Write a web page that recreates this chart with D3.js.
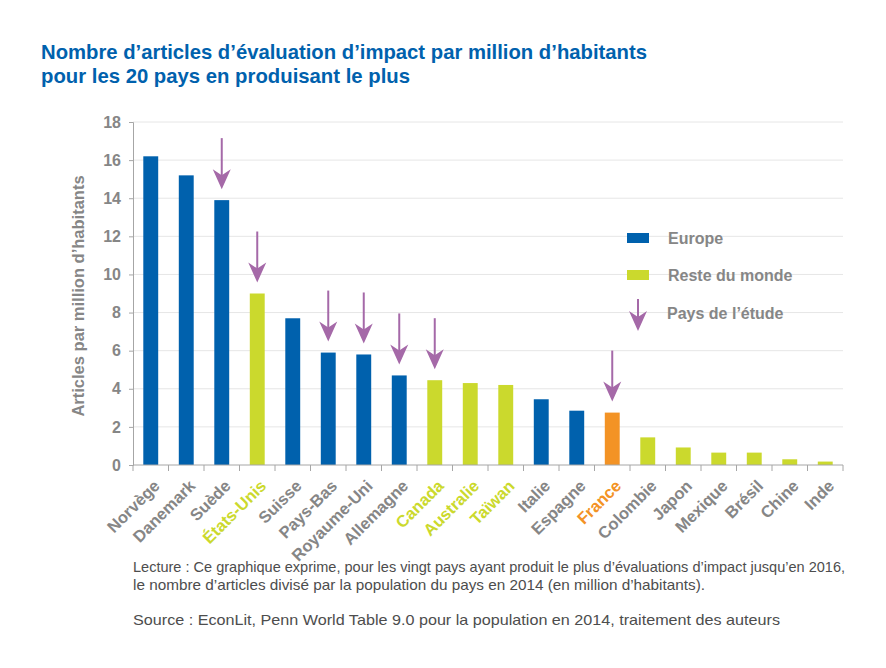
<!DOCTYPE html>
<html lang="fr">
<head>
  <meta charset="utf-8" />
  <title>Articles d'évaluation d'impact par million d'habitants</title>
  <script src="https://cdn.jsdelivr.net/npm/d3@7"></script>
  <style>
    body { margin: 0; background: #fff; }
    svg { display: block; }
    .tick text { font-family: Arial, "Liberation Sans", sans-serif; }
  </style>
</head>
<body>
<div id="chart"></div>
<script>
// données
var pays = ["Norvège", "Danemark", "Suède", "États-Unis", "Suisse", "Pays-Bas",
  "Royaume-Uni", "Allemagne", "Canada", "Australie", "Taïwan", "Italie",
  "Espagne", "France", "Colombie", "Japon", "Mexique", "Brésil", "Chine", "Inde"];
var articles = [16.2, 15.2, 13.9, 9.0, 7.7, 5.9, 5.8, 4.7, 4.45, 4.3, 4.2, 3.45,
  2.85, 2.75, 1.45, 0.92, 0.65, 0.65, 0.3, 0.18];
var zone = ["Europe", "Europe", "Europe", "Monde", "Europe", "Europe", "Europe",
  "Europe", "Monde", "Monde", "Monde", "Europe", "Europe", "France", "Monde",
  "Monde", "Monde", "Monde", "Monde", "Monde"];
// pays de l'étude (flèches)
var etude = ["Suède", "États-Unis", "Pays-Bas", "Royaume-Uni", "Allemagne", "Canada", "France"];
// étiquettes colorées sur l'axe
var labelsVerts = ["États-Unis", "Canada", "Australie", "Taïwan"];
var labelsOrange = ["France"];
var yTicks = [0, 2, 4, 6, 8, 10, 12, 14, 16, 18];
var legende = [
  { nom: "Europe", zone: "Europe" },
  { nom: "Reste du monde", zone: "Monde" }
];

var couleurs = { Europe: "#0061ad", Monde: "#cbd92d", France: "#f39325" };
var violet = "#a569a8";
var gris = "#868686";

var W = 886, H = 668;
var svg = d3.select("#chart").append("svg")
  .attr("width", W).attr("height", H);

svg.append("rect").attr("width", W).attr("height", H).attr("fill", "#fff");

// titre (police étroite simulée avec textLength)
var titre = svg.append("g")
  .style("font-family", "'Liberation Sans Narrow', 'Arial Narrow', 'Liberation Sans', Arial, sans-serif")
  .style("font-weight", "bold")
  .style("font-size", "21px")
  .attr("fill", "#0061ad");
titre.append("text").attr("x", 41).attr("y", 59)
  .attr("textLength", 606).attr("lengthAdjust", "spacingAndGlyphs")
  .text("Nombre d’articles d’évaluation d’impact par million d’habitants");
titre.append("text").attr("x", 41).attr("y", 83)
  .attr("textLength", 369).attr("lengthAdjust", "spacingAndGlyphs")
  .text("pour les 20 pays en produisant le plus");

var x = d3.scaleBand()
  .domain(pays)
  .range([133, 843])
  .paddingInner(0.58)
  .paddingOuter(0.29);

var y = d3.scaleLinear()
  .domain([0, 18])
  .range([465, 122]);

// grille
svg.append("g")
  .selectAll("line")
  .data(yTicks.filter(function(d) { return d > 0; }))
  .join("line")
  .attr("x1", 133).attr("x2", 843)
  .attr("y1", function(d) { return y(d); })
  .attr("y2", function(d) { return y(d); })
  .attr("stroke", "#e6e6e6")
  .attr("stroke-width", 1);

// axe Y
var yAxis = svg.append("g")
  .attr("transform", "translate(133,0)")
  .call(d3.axisLeft(y).tickValues(yTicks).tickSize(4).tickPadding(8));
yAxis.select(".domain").attr("stroke", "#a6a6a6");
yAxis.selectAll(".tick line").attr("stroke", "#a6a6a6");
yAxis.selectAll(".tick text")
  .attr("fill", gris)
  .style("font-size", "16px")
  .style("font-weight", "bold");

svg.append("text")
  .attr("transform", "translate(84,296) rotate(-90)")
  .attr("text-anchor", "middle")
  .style("font-family", "Arial, 'Liberation Sans', sans-serif")
  .style("font-weight", "bold")
  .style("font-size", "16.5px")
  .attr("fill", gris)
  .text("Articles par million d’habitants");

// barres
svg.append("g")
  .selectAll("rect")
  .data(pays)
  .join("rect")
  .attr("x", function(d) { return x(d); })
  .attr("width", x.bandwidth())
  .attr("y", function(d, i) { return y(articles[i]); })
  .attr("height", function(d, i) { return y(0) - y(articles[i]); })
  .attr("fill", function(d, i) { return couleurs[zone[i]]; });

// axe X : traits entre les barres
var step = x.step();
var bornes = d3.range(pays.length + 1).map(function(i) { return 133 + i * step; });
svg.append("g")
  .selectAll("line")
  .data(bornes)
  .join("line")
  .attr("x1", function(d) { return d; }).attr("x2", function(d) { return d; })
  .attr("y1", y(0)).attr("y2", y(0) + 6)
  .attr("stroke", "#a6a6a6");
svg.append("line")
  .attr("x1", 133).attr("x2", 843)
  .attr("y1", y(0)).attr("y2", y(0))
  .attr("stroke", "#a6a6a6");

svg.append("g")
  .selectAll("text")
  .data(pays)
  .join("text")
  .attr("transform", function(d) {
    return "translate(" + (x(d) + x.bandwidth() / 2 + 10) + "," + 487 + ") rotate(-45)";
  })
  .attr("text-anchor", "end")
  .style("font-family", "Arial, 'Liberation Sans', sans-serif")
  .style("font-weight", "bold")
  .style("font-size", "16.5px")
  .attr("fill", function(d) {
    if (labelsVerts.indexOf(d) >= 0) return couleurs.Monde;
    if (labelsOrange.indexOf(d) >= 0) return couleurs.France;
    return gris;
  })
  .text(function(d) { return d; });

// flèches
function fleche(g, cx, yTop, yTip) {
  g.append("line")
    .attr("x1", cx).attr("x2", cx)
    .attr("y1", yTop).attr("y2", yTip - 12)
    .attr("stroke", violet).attr("stroke-width", 2);
  g.append("path")
    .attr("d", "M" + cx + "," + yTip +
      " L" + (cx - 9) + "," + (yTip - 20) +
      " L" + cx + "," + (yTip - 14) +
      " L" + (cx + 9) + "," + (yTip - 20) + " Z")
    .attr("fill", violet);
}

var gFleches = svg.append("g");
pays.forEach(function(p, i) {
  if (etude.indexOf(p) < 0) return;
  var cx = x(p) + x.bandwidth() / 2;
  var tip = y(articles[i]) - 11;
  fleche(gFleches, cx, tip - 51, tip);
});

// légende
var gLeg = svg.append("g");
legende.forEach(function(l, i) {
  var yy = 238 + i * 37;
  gLeg.append("rect")
    .attr("x", 627).attr("y", yy - 5)
    .attr("width", 22).attr("height", 10)
    .attr("fill", couleurs[l.zone]);
  gLeg.append("text")
    .attr("x", 668).attr("y", yy + 6)
    .style("font-family", "Arial, 'Liberation Sans', sans-serif")
    .style("font-weight", "bold")
    .style("font-size", "16px")
    .attr("fill", gris)
    .text(l.nom);
});
fleche(gLeg, 638, 299, 331);
gLeg.append("text")
  .attr("x", 667).attr("y", 319)
  .style("font-family", "Arial, 'Liberation Sans', sans-serif")
  .style("font-weight", "bold")
  .style("font-size", "16px")
  .attr("fill", gris)
  .text("Pays de l’étude");

// notes
var notes = svg.append("g")
  .style("font-family", "Arial, 'Liberation Sans', sans-serif")
  .style("font-size", "14.5px")
  .attr("fill", "#4d4d4d");
notes.append("text").attr("x", 133).attr("y", 572)
  .attr("textLength", 712).attr("lengthAdjust", "spacingAndGlyphs")
  .text("Lecture : Ce graphique exprime, pour les vingt pays ayant produit le plus d’évaluations d’impact jusqu’en 2016,");
notes.append("text").attr("x", 133).attr("y", 590)
  .attr("textLength", 572).attr("lengthAdjust", "spacingAndGlyphs")
  .text("le nombre d’articles divisé par la population du pays en 2014 (en million d’habitants).");
notes.append("text").attr("x", 133).attr("y", 625)
  .attr("textLength", 647).attr("lengthAdjust", "spacingAndGlyphs")
  .text("Source : EconLit, Penn World Table 9.0 pour la population en 2014, traitement des auteurs");
</script>
</body>
</html>
